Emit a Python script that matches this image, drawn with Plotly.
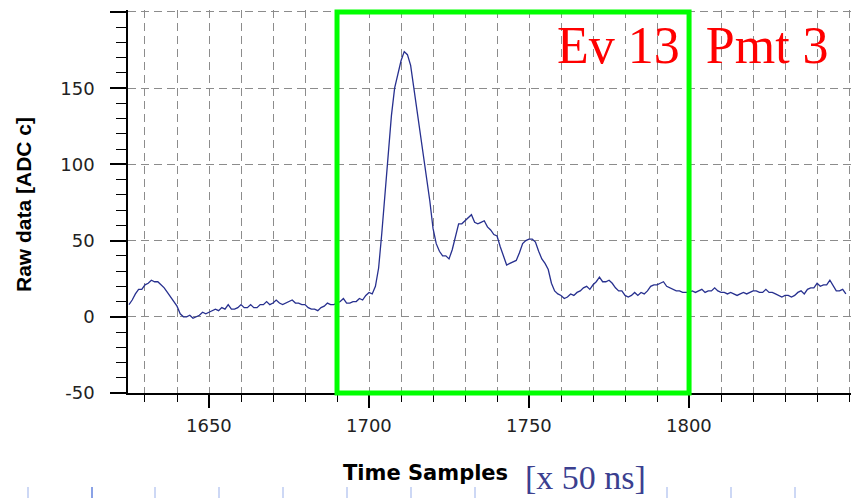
import plotly.graph_objects as go

# ---------------- data ----------------
T0 = 1625  # first time sample shown
RAW = [
    8, 11, 15, 18, 18, 21, 22, 24, 23, 23,        # 1625-1634
    21, 19, 16, 13, 10, 7, 2, 0, 0, 1,            # 1635-1644
    -1, 0, 1, 3, 2, 3, 4, 5, 4, 6,                # 1645-1654
    5, 8, 5, 5, 6, 8, 6, 6, 8, 6,                 # 1655-1664
    6, 8, 8, 10, 8, 9, 11, 9, 8, 9,               # 1665-1674
    10, 11, 9, 9, 8, 8, 6, 5, 5, 4,               # 1675-1684
    6, 7, 9, 8, 8, 9, 10, 12, 9, 9,               # 1685-1694
    10, 10, 12, 11, 14, 16, 15, 20, 32, 55,       # 1695-1704
    82, 108, 132, 150, 160, 168, 174, 172, 165, 150,  # 1705-1714
    134, 122, 107, 92, 76, 58, 48, 43, 40, 40,    # 1715-1724
    38, 44, 52, 61, 61, 63, 65, 67, 62, 61,       # 1725-1734
    62, 63, 59, 57, 54, 53, 46, 40, 34, 35,       # 1735-1744
    36, 37, 42, 48, 50, 51, 51, 49, 43, 38,       # 1745-1754
    35, 31, 22, 17, 15, 14, 12, 13, 15, 14,       # 1755-1764
    16, 17, 19, 20, 18, 21, 23, 26, 23, 23,       # 1765-1774
    24, 22, 19, 17, 17, 14, 13, 14, 16, 14,       # 1775-1784
    16, 15, 17, 20, 21, 21, 22, 23, 20, 19,       # 1785-1794
    18, 17, 17, 16, 16, 16, 17, 16, 17, 18,       # 1795-1804
    16, 17, 17, 19, 17, 16, 16, 15, 16, 15,       # 1805-1814
    14, 15, 16, 15, 16, 17, 17, 16, 16, 18,       # 1815-1824
    16, 16, 15, 14, 13, 14, 14, 13, 14, 16,       # 1825-1834
    17, 15, 18, 19, 19, 22, 20, 21, 21, 24,       # 1835-1844
    20, 17, 17, 18, 15,                           # 1845-1849
]
SAMPLES = list(range(T0, T0 + len(RAW)))

X_TICKS = [1650, 1700, 1750, 1800, 1850]
X_TICK_TEXT = ["1650", "1700", "1750", "1800", ""]
Y_TICKS = [-50, 0, 50, 100, 150, 200]
Y_TICK_TEXT = ["-50", "0", "50", "100", "150", ""]

WINDOW_X = [1690, 1800]      # green selection window (time samples)
WINDOW_Y = [-50, 200]        # green selection window (ADC counts)

LABEL_EVENT = "Ev 13\u00a0\u00a0Pmt 3"
LABEL_X = "Time Samples"
LABEL_UNIT = "[x 50 ns]"
LABEL_Y = "Raw data [ADC c]"

# ---------------- layout geometry ----------------
W, H = 851, 498
ML, MR, MT, MB = 128, 0, 10, 105
PW, PH = W - ML - MR, H - MT - MB
X_RANGE = [1624.69, 1850.6]
Y_RANGE = [-50, 201.3]


def px_x(px):
    return (px - ML) / PW


def px_y(py):
    return (H - MB - py) / PH


def val_y(v):
    return (v - Y_RANGE[0]) / (Y_RANGE[1] - Y_RANGE[0])


GRID = dict(gridcolor="#8c8c8c", griddash="8px,5px", gridwidth=1.2)
TICK_FONT = dict(family="DejaVu Sans", size=18, color="#222222")

fig = go.Figure()
fig.add_trace(go.Scatter(
    x=SAMPLES, y=RAW, mode="lines",
    line=dict(color="#27308f", width=1.3),
    showlegend=False, hoverinfo="skip",
))

fig.update_layout(
    width=W, height=H,
    margin=dict(l=ML, r=MR, t=MT, b=MB, pad=0),
    paper_bgcolor="white", plot_bgcolor="white",
    showlegend=False,
    xaxis=dict(
        range=X_RANGE, tickmode="array", tickvals=X_TICKS, ticktext=X_TICK_TEXT,
        ticks="outside", ticklen=13, tickwidth=1.5, tickcolor="black",
        showline=True, linecolor="black", linewidth=1.5,
        showgrid=True, zeroline=False, **GRID,
        showticklabels=False,
        minor=dict(dtick=10, tick0=1620, ticks="outside", ticklen=7,
                   tickwidth=1.2, tickcolor="black", showgrid=True, **GRID),
    ),
    yaxis=dict(
        range=Y_RANGE, tickmode="array", tickvals=Y_TICKS, ticktext=Y_TICK_TEXT,
        ticks="outside", ticklen=16, tickwidth=1.5, tickcolor="black",
        showline=True, linecolor="black", linewidth=1.5,
        showgrid=True, zeroline=False, **GRID,
        tickfont=TICK_FONT,
        ticklabelstandoff=12,
        minor=dict(dtick=10, tick0=0, ticks="outside", ticklen=10,
                   tickwidth=1.2, tickcolor="black", showgrid=False),
    ),
)

# x tick labels (placed as text at the tick values)
for tv, tt in zip(X_TICKS, X_TICK_TEXT):
    if tt:
        fig.add_annotation(
            text=tt, xref="x", yref="paper", x=tv, y=px_y(425),
            xanchor="center", yanchor="middle", showarrow=False, font=TICK_FONT,
        )

# green selection window
fig.add_shape(
    type="rect", xref="x", yref="paper",
    x0=WINDOW_X[0], x1=WINDOW_X[1], y0=val_y(WINDOW_Y[0]), y1=val_y(WINDOW_Y[1]),
    line=dict(color="#00ff00", width=5), layer="above",
)

# faint slide-ruler marks along the bottom edge (decoration)
MARKS_PX = [28, 92, 155, 219, 283, 347, 411, 475, 667, 731, 795]
for mx in MARKS_PX:
    fig.add_shape(
        type="line", xref="paper", yref="paper",
        x0=px_x(mx), x1=px_x(mx), y0=px_y(487), y1=px_y(498),
        line=dict(color="#8aa2e6" if mx == 92 else "#cdd8f5", width=2),
    )

# texts
fig.add_annotation(
    text=LABEL_EVENT, xref="paper", yref="paper",
    x=px_x(692.5), y=px_y(45), xanchor="center", yanchor="middle",
    showarrow=False,
    font=dict(family="Liberation Serif", size=52, color="#ff0000"),
)
fig.add_annotation(
    text=LABEL_X, xref="paper", yref="paper",
    x=px_x(425), y=px_y(473), xanchor="center", yanchor="middle",
    showarrow=False,
    font=dict(family="DejaVu Sans", size=21, color="#000000", weight="bold"),
)
fig.add_annotation(
    text=LABEL_UNIT, xref="paper", yref="paper",
    x=px_x(585), y=px_y(478), xanchor="center", yanchor="middle",
    showarrow=False,
    font=dict(family="Liberation Serif", size=34, color="#3b3f8f"),
)
fig.add_annotation(
    text=LABEL_Y, xref="paper", yref="paper",
    x=px_x(23), y=px_y(204), xanchor="center", yanchor="middle",
    textangle=-90, showarrow=False,
    font=dict(family="Liberation Sans", size=21, color="#000000", weight="bold"),
)

fig.write_html("out.html")
